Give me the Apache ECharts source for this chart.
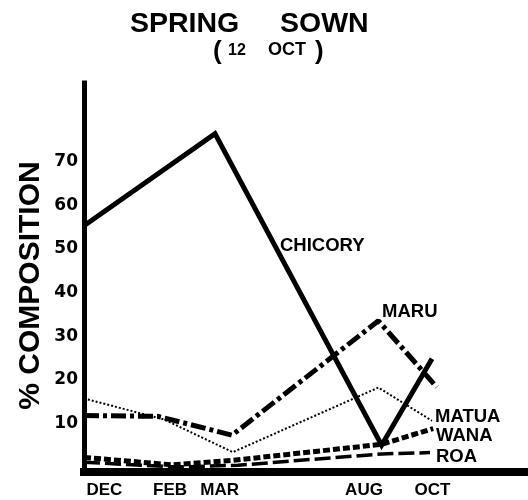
<!DOCTYPE html>
<html>
<head>
<meta charset="utf-8">
<script src="https://cdn.jsdelivr.net/npm/echarts@6/dist/echarts.min.js"></script>
<style>html,body{margin:0;padding:0;background:#fff;}#c{width:528px;height:500px;}</style>
</head>
<body>
<div id="c"></div>
<script>
// x positions are in an arbitrary sampling-time unit along the hand-drawn axis
const monthLabels = ['DEC', 'FEB', 'MAR', 'AUG', 'OCT'];
const monthLabelPos = [5.1, 21.5, 33.9, 70, 87.1];
const yTicks = [10, 20, 30, 40, 50, 60, 70];

const chicoryX = [0, 32.75, 74.4, 87];
const chicoryY = [55.3, 76.4, 5.0, 24.8];

const maruX = [0, 18.5, 37, 73.6, 88.2];
const maruY = [11.8, 11.6, 7.3, 33.5, 18.3];

const matuaX = [0, 20, 37.2, 73.6, 87];
const matuaY = [15.7, 10.9, 3.4, 18.2, 10.6];

const wanaX = [0, 22, 37, 74.4, 87.3];
const wanaY = [2.2, 0.5, 1.5, 5.2, 8.8];

const roaX = [0, 23, 38.5, 74.5, 86.5];
const roaY = [1.1, 0.0, 0.4, 3.0, 3.3];

const seriesNames = ['CHICORY', 'MARU', 'MATUA', 'WANA', 'ROA'];

function pairs(xs, ys) { return xs.map((x, i) => [x, ys[i]]); }

const chart = echarts.init(document.getElementById('c'), null, {renderer: 'canvas'});
const F = '"Liberation Sans", Arial, sans-serif';

function txt(text, x, y, size, align) {
  return {
    type: 'text', x: x, y: y, z: 100,
    style: { text: text, font: 'bold ' + size + 'px ' + F, fill: '#000',
             align: align || 'left', verticalAlign: 'middle' }
  };
}

const option = {
  animation: false,
  backgroundColor: '#fff',
  grid: { left: 84, right: 0, top: 83, bottom: 33 },
  xAxis: {
    type: 'value', min: 0, max: 111,
    offset: 5,
    splitLine: { show: false },
    axisTick: { show: false },
    axisLine: { show: true, onZero: false, lineStyle: { color: '#000', width: 8, cap: 'square' } },
    axisLabel: {
      customValues: monthLabelPos,
      margin: 10,
      color: '#000',
      fontFamily: F, fontWeight: 'bold', fontSize: 17,
      formatter: function (v) {
        const i = monthLabelPos.findIndex(p => Math.abs(p - v) < 1e-6);
        return i >= 0 ? monthLabels[i] : '';
      }
    }
  },
  yAxis: {
    type: 'value', min: 0, max: 88, interval: 10,
    splitLine: { show: false },
    axisTick: { show: false },
    axisLine: { show: true, lineStyle: { color: '#000', width: 5, cap: 'square' } },
    axisLabel: {
      customValues: yTicks,
      margin: 6,
      color: '#000',
      fontFamily: '"DejaVu Sans", sans-serif', fontWeight: 'bold', fontSize: 17,
      formatter: function (v) { return yTicks.indexOf(v) >= 0 ? String(v) : ''; }
    }
  },
  series: [
    { name: seriesNames[0], type: 'line', symbol: 'none', data: pairs(chicoryX, chicoryY),
      lineStyle: { color: '#000', width: 5, type: 'solid', join: 'miter' } },
    { name: seriesNames[1], type: 'line', symbol: 'none', data: pairs(maruX, maruY),
      lineStyle: { color: '#000', width: 5, type: [15, 4, 4, 4] } },
    { name: seriesNames[2], type: 'line', symbol: 'none', data: pairs(matuaX, matuaY),
      lineStyle: { color: '#000', width: 2, type: [2, 2] } },
    { name: seriesNames[3], type: 'line', symbol: 'none', data: pairs(wanaX, wanaY),
      lineStyle: { color: '#000', width: 5, type: [7, 3] } },
    { name: seriesNames[4], type: 'line', symbol: 'none', data: pairs(roaX, roaY),
      lineStyle: { color: '#000', width: 3.5, type: [16, 5] } }
  ],
  graphic: [
    txt('SPRING', 130, 24, 28.5),
    txt('SOWN', 280, 24, 28.5),
    txt('(', 213, 51.5, 26),
    txt('12', 228, 50.5, 16),
    txt('OCT', 268, 50.5, 18),
    txt(')', 315, 51.5, 26),
    {
      type: 'text', x: 31, y: 285.5, rotation: Math.PI / 2, z: 100,
      style: { text: '% COMPOSITION', font: 'bold 30px ' + F, fill: '#000',
               align: 'center', verticalAlign: 'middle' }
    },
    txt(seriesNames[0], 280, 245.5, 18.5),
    txt(seriesNames[1], 382, 311.5, 18.5),
    txt(seriesNames[2], 435, 416.5, 18.5),
    txt(seriesNames[3], 436, 435.5, 18.5),
    txt(seriesNames[4], 436, 457, 18.5)
  ]
};
chart.setOption(option);
</script>
</body>
</html>
